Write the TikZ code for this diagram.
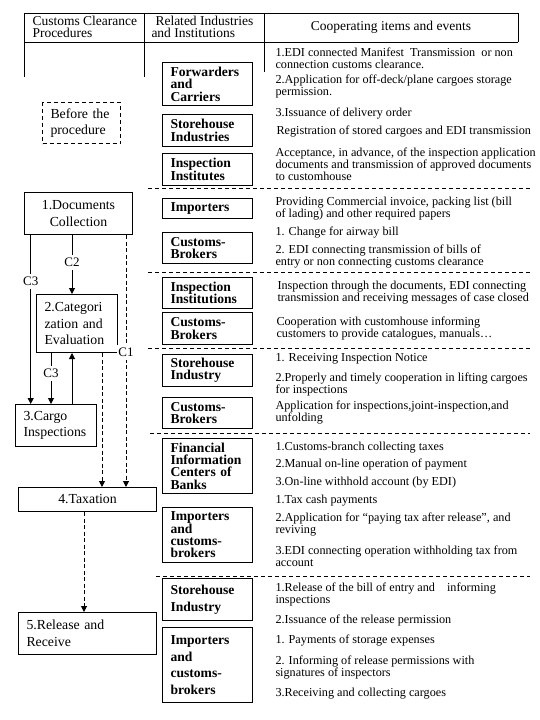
\documentclass[tikz,border=0pt]{standalone}
\usepackage{fontspec}
\setmainfont{Liberation Serif}
\usetikzlibrary{arrows.meta}
\newcommand\tlines[1]{\vtop{\lineskiplimit=-16000pt\relax\halign{##\hfil\cr#1\crcr}}}
\newcommand\tightls{\lineskiplimit=-16000pt\relax}
\begin{document}
\begin{tikzpicture}[x=1pt,y=-1pt,line width=1pt,
  hdr/.style={font=\fontsize{13.5}{12.5}\selectfont,inner sep=0pt,anchor=base west},
  rt/.style={font=\fontsize{12.2}{12}\selectfont,inner sep=0pt,anchor=base west},
  procbox/.style={draw,font=\fontsize{13.8}{16.7}\selectfont,execute at begin node=\tightls,align=left,inner xsep=8pt,inner ysep=0pt,anchor=north west},
  midbox/.style={draw,font=\fontsize{13.6}{12.4}\bfseries\selectfont,execute at begin node=\tightls,text width=74pt,align=left,inner xsep=8pt,inner ysep=0pt,anchor=north west,minimum height=#1},
  widebox/.style={draw,font=\fontsize{13.6}{16.7}\bfseries\selectfont,execute at begin node=\tightls,text width=74pt,align=left,inner xsep=8pt,inner ysep=0pt,anchor=north west,minimum height=#1},
  sepline/.style={dash pattern=on 4pt off 3pt},
  dashedarr/.style={dash pattern=on 4pt off 2.5pt,-{Triangle[width=6pt,length=6pt]}},
  arr/.style={-{Triangle[width=6pt,length=6pt]}},
  lbl/.style={fill=white,inner xsep=1pt,inner ysep=3pt,font=\fontsize{13}{13}\selectfont}]
\fill[white] (0,0) rectangle (540,720);
\useasboundingbox (0,0) rectangle (540,720);
% header table
\draw (24,13) -- (518,13);
\draw (24,42) -- (518,42);
\draw (24,13) -- (24,77);
\draw (144,13) -- (144,77);
\draw (264,13) -- (264,72);
\draw (518,13) -- (518,42);
\node[hdr] (h1) at (32,25.5) {\tlines{Customs Clearance\cr Procedures}};
\node[hdr] (h2) at (151,25.5) {\tlines{\kern4pt Related Industries\cr and Institutions}};
\node[hdr,anchor=base] (h3) at (391,30) {Cooperating items and events};
% separators
\draw[sepline] (148,188) -- (530,188);
\draw[sepline] (148,272) -- (530,272);
\draw[sepline] (148,348) -- (530,348);
\draw[sepline] (150,433) -- (530,433);
\draw[sepline] (156,576) -- (530,576);
% procedure boxes
\node[procbox,dash pattern=on 4pt off 3pt,text width=62pt,minimum height=41pt] (before) at (42,102) {Before the\\procedure};
\node[procbox,align=center,text width=92pt,minimum height=42pt] (docs) at (24,192) {1.Documents\\Collection};
\node[procbox,text width=65pt,minimum height=58pt] (cat) at (36,294) {2.Categori\\zation and\\Evaluation};
\node[procbox,text width=65pt,minimum height=42pt] (cargo) at (15,404) {3.Cargo\\Inspections};
\node[procbox,align=center,text width=122pt,minimum height=24pt] (tax) at (18,487) {4.Taxation};
\node[procbox,text width=122pt,minimum height=42pt] (rel) at (18,612) {5.Release and\\Receive};
% connectors
\coordinate (xa) at (72,0);
\coordinate (xb) at (30.7,0);
\coordinate (xc) at (51,0);
\coordinate (xd) at (126,0);
\coordinate (xe) at (102,0);
\coordinate (xf) at (84,0);
\draw[arr] (xa |- docs.south) -- node[lbl,pos=0.47] (lc2) {C2} (xa |- cat.north);
\draw[arr] (xb |- docs.south) -- node[lbl,pos=0.276] (lc3a) {C3} (xb |- cargo.north);
\draw[arr] (xc |- cat.south) -- node[lbl,pos=0.40] (lc3b) {C3} (xc |- cargo.north);
\draw[arr] (xa |- cargo.north) -- (xa |- cat.south);
\draw[dashedarr] (xd |- docs.south) -- node[lbl,pos=0.466] (lc1) {C1} (xd |- tax.north);
\draw[dashedarr] (xe |- cat.south) -- (xe |- tax.north);
\draw[dashedarr] (xf |- tax.south) -- (xf |- rel.north);
% industries and institutions
\node[midbox=43pt] (m1) at (162,62) {Forwarders\\and\\Carriers};
\node[midbox=32pt] (m2) at (162,114) {Storehouse\\Industries};
\node[midbox=32pt] (m3) at (162,153) {Inspection\\Institutes};
\node[midbox=20pt] (m4) at (162,198) {Importers};
\node[midbox=31pt] (m5) at (162,232) {Customs-\\Brokers};
\node[midbox=31pt] (m6) at (162,277) {Inspection\\Institutions};
\node[midbox=32pt] (m7) at (162,312) {Customs-\\Brokers};
\node[midbox=32pt] (m8) at (162,354) {Storehouse\\Industry};
\node[midbox=31pt] (m9) at (162,397) {Customs-\\Brokers};
\node[midbox=55pt] (m10) at (162,438) {Financial\\Information\\Centers of\\Banks};
\node[midbox=55pt] (m11) at (162,507) {Importers\\and\\customs-\\brokers};
\node[widebox=42pt] (m12) at (162,578) {Storehouse\\Industry};
\node[widebox=75pt] (m13) at (162,627) {Importers\\and\\customs-\\brokers};
% cooperating items
\node[rt] (r1) at (275,56) {\tlines{1.EDI connected Manifest\ \ Transmission\ \ or non\cr connection customs clearance.}};
\node[rt] (r2) at (275,83) {\tlines{2.Application for off-deck/plane cargoes storage\cr permission.}};
\node[rt] (r3) at (275,116) {3.Issuance of delivery order};
\node[rt] (r4) at (276,134) {Registration of stored cargoes and EDI transmission};
\node[rt] (r5) at (275,156) {\tlines{Acceptance, in advance, of the inspection application\cr documents and transmission of approved documents\cr to customhouse}};
\node[rt] (r6) at (275,205) {\tlines{Providing Commercial invoice, packing list (bill\cr of lading) and other required papers}};
\node[rt] (r7) at (275,235) {1. Change for airway bill};
\node[rt] (r8) at (275,253) {\tlines{2. EDI connecting transmission of bills of\cr entry or non connecting customs clearance}};
\node[rt] (r9) at (277,289) {\tlines{Inspection through the documents, EDI connecting\cr transmission and receiving messages of case closed}};
\node[rt] (r10) at (276,325) {\tlines{Cooperation with customhouse informing\cr customers to provide catalogues, manuals…}};
\node[rt] (r11) at (275,361) {1. Receiving Inspection Notice};
\node[rt] (r12) at (275,381) {\tlines{2.Properly and timely cooperation in lifting cargoes\cr for inspections}};
\node[rt] (r13) at (275,409) {\tlines{Application for inspections,joint-inspection,and\cr unfolding}};
\node[rt] (r14) at (275,450) {1.Customs-branch collecting taxes};
\node[rt] (r15) at (275,467) {2.Manual on-line operation of payment};
\node[rt] (r16) at (275,485) {3.On-line withhold account (by EDI)};
\node[rt] (r17) at (275,503) {1.Tax cash payments};
\node[rt] (r18) at (275,521) {\tlines{2.Application for “paying tax after release”, and\cr reviving}};
\node[rt] (r19) at (275,554) {\tlines{3.EDI connecting operation withholding tax from\cr account}};
\node[rt] (r20) at (275,591) {\tlines{1.Release of the bill of entry and\kern12pt informing\cr inspections}};
\node[rt] (r21) at (275,623) {2.Issuance of the release permission};
\node[rt] (r22) at (275,643) {1. Payments of storage expenses};
\node[rt] (r23) at (275,664) {\tlines{2. Informing of release permissions with\cr signatures of inspectors}};
\node[rt] (r24) at (275,696) {3.Receiving and collecting cargoes};
\end{tikzpicture}
\end{document}
